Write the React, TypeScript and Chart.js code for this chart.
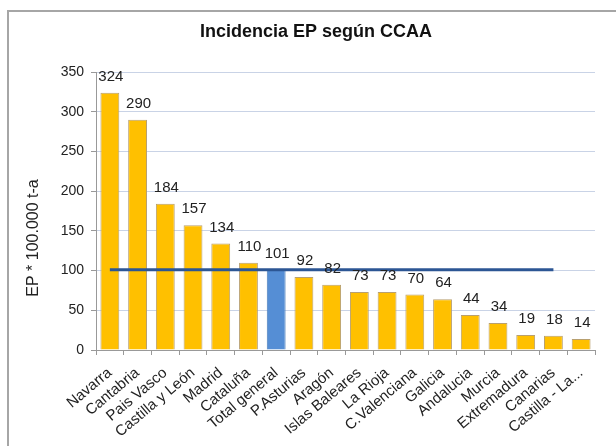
import React, { useEffect, useRef } from "react";
import { Chart, registerables } from "chart.js";

Chart.register(...registerables);

const categories = [
  "Navarra", "Cantabria", "Pais Vasco", "Castilla y León", "Madrid", "Cataluña",
  "Total general", "P.Asturias", "Aragón", "Islas Baleares", "La Rioja",
  "C.Valenciana", "Galicia", "Andalucia", "Murcia", "Extremadura", "Canarias",
  "Castilla - La...",
];
const incidence = [324, 290, 184, 157, 134, 110, 101, 92, 82, 73, 73, 70, 64, 44, 34, 19, 18, 14];
const averageLine = [101, 101, 101, 101, 101, 101, 101, 101, 101, 101, 101, 101, 101, 101, 101, 101, 101, null];
const yTicks = [0, 50, 100, 150, 200, 250, 300, 350];
const titleText = "Incidencia EP según CCAA";
const yTitleText = "EP * 100.000 t-a";

const FONT = "'Liberation Sans', Arial, sans-serif";

export default function App() {
  const ref = useRef<HTMLCanvasElement | null>(null);

  useEffect(() => {
    const canvas = ref.current;
    if (!canvas) return;

    const decor = {
      id: "decor",
      beforeDraw(chart: any) {
        const ctx = chart.ctx;
        ctx.save();
        ctx.fillStyle = "#ffffff";
        ctx.fillRect(0, 0, chart.width, chart.height);
        ctx.strokeStyle = "#a6a6a6";
        ctx.lineWidth = 2;
        ctx.strokeRect(8, 11, 700, 600);
        ctx.restore();
      },
      afterDatasetsDraw(chart: any) {
        const ctx = chart.ctx;
        ctx.save();
        // title
        ctx.fillStyle = "#111";
        ctx.font = `bold 18px ${FONT}`;
        ctx.textAlign = "center";
        ctx.textBaseline = "middle";
        ctx.fillText(titleText, 316, 32);
        // y title
        ctx.save();
        ctx.translate(34, 238);
        ctx.rotate(-Math.PI / 2);
        ctx.font = `16px ${FONT}`;
        ctx.fillStyle = "#222";
        ctx.fillText(yTitleText, 0, 0);
        ctx.restore();
        // data labels
        const meta = chart.getDatasetMeta(0);
        ctx.font = `15px ${FONT}`;
        ctx.fillStyle = "#222";
        meta.data.forEach((bar: any, i: number) => {
          ctx.fillText(String(incidence[i]), bar.x + 1, bar.y - 16);
        });
        ctx.restore();
      },
    };

    const chart = new Chart(canvas, {
      type: "bar",
      data: {
        labels: categories,
        datasets: [
          {
            type: "bar",
            data: incidence,
            backgroundColor: incidence.map((_, i) => (i === 6 ? "#558ED5" : "#FFC000")),
            borderColor: incidence.map((_, i) => (i === 6 ? "#4A7EBB" : "#B8A070")),
            borderWidth: 1,
            barPercentage: 0.68,
            categoryPercentage: 1,
            order: 2,
          } as any,
          {
            type: "line",
            data: averageLine,
            borderColor: "#2C5694",
            borderWidth: 3,
            pointRadius: 0,
            fill: false,
            spanGaps: false,
            order: 1,
          } as any,
        ],
      },
      options: {
        responsive: false,
        animation: false,
        layout: { padding: { top: 72, right: 21, left: 0, bottom: 0 } },
        plugins: {
          legend: { display: false },
          title: { display: false },
          tooltip: { enabled: false },
        },
        scales: {
          x: {
            offset: true,
            grid: {
              offset: true,
              drawOnChartArea: false,
              drawTicks: true,
              tickLength: 5,
              tickColor: "#999",
            },
            border: { color: "#999", width: 1 },
            ticks: {
              autoSkip: false,
              maxRotation: 40,
              minRotation: 40,
              padding: 9,
              color: "#222",
              font: { family: FONT, size: 15 },
            },
            afterFit(scale: any) {
              scale.height = 96;
            },
          },
          y: {
            min: 0,
            max: 350,
            afterBuildTicks(scale: any) {
              scale.ticks = yTicks.map((v) => ({ value: v }));
            },
            grid: {
              color: "#C9D3E6",
              lineWidth: 1,
              tickLength: 5,
              tickColor: "#999",
            },
            border: { color: "#999", width: 1 },
            ticks: {
              padding: 7,
              color: "#222",
              font: { family: FONT, size: 14 },
            },
            afterFit(scale: any) {
              scale.width = 96;
            },
          },
        },
      },
      plugins: [decor],
    });

    return () => chart.destroy();
  }, []);

  return (
    <div style={{ position: "fixed", left: 0, top: 0, width: 616, height: 446 }}>
      <canvas ref={ref} width={616} height={446} style={{ width: 616, height: 446 }} />
    </div>
  );
}
